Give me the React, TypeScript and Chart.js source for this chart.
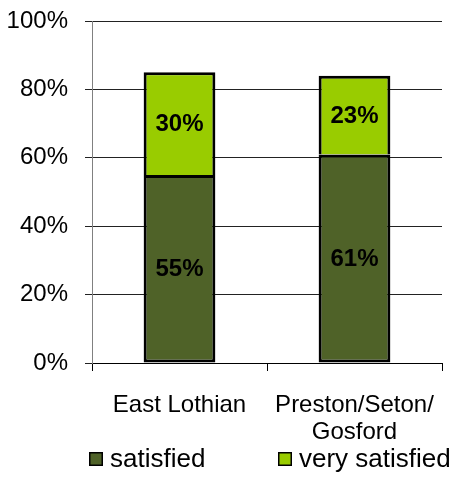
import React, { useEffect, useRef } from 'react';
import { Chart, registerables } from 'chart.js';

Chart.register(...registerables);

const categories: (string | string[])[] = ['East Lothian', ['Preston/Seton/', 'Gosford']];
const seriesNames = ['satisfied', 'very satisfied'];
const satisfied = [55, 61];
const verySatisfied = [30, 23];
const yMin = 0;
const yMax = 100;
const yStep = 20;

const FONT = "'Liberation Sans', Arial, sans-serif";

const dataLabelPlugin = {
  id: 'segmentLabels',
  afterDatasetsDraw(chart: any) {
    const ctx = chart.ctx;
    ctx.save();
    ctx.font = `bold 24px ${FONT}`;
    ctx.fillStyle = '#000';
    ctx.textAlign = 'center';
    ctx.textBaseline = 'middle';
    chart.data.datasets.forEach((ds: any, di: number) => {
      const meta = chart.getDatasetMeta(di);
      meta.data.forEach((bar: any, i: number) => {
        const { x, y, base } = bar.getProps(['x', 'y', 'base'], true);
        ctx.fillText(`${ds.data[i]}%`, x, (y + base) / 2 + 1);
      });
    });
    ctx.restore();
  },
};

const legendPlugin = {
  id: 'bottomLegend',
  afterDraw(chart: any, _args: any, opts: any) {
    const ctx = chart.ctx;
    ctx.save();
    ctx.font = `26px ${FONT}`;
    ctx.textBaseline = 'middle';
    ctx.textAlign = 'left';
    chart.data.datasets.forEach((ds: any, i: number) => {
      const x = opts.x[i];
      const y = opts.y;
      const s = opts.box;
      ctx.fillStyle = ds.backgroundColor;
      ctx.fillRect(x, y, s, s);
      ctx.strokeStyle = '#000';
      ctx.lineWidth = 1.5;
      ctx.strokeRect(x + 0.75, y + 0.75, s - 1.5, s - 1.5);
      ctx.fillStyle = '#000';
      ctx.fillText(ds.label, x + s + opts.gap, y + s / 2 + 1);
    });
    ctx.restore();
  },
};

export default function App() {
  const ref = useRef<HTMLCanvasElement>(null);
  useEffect(() => {
    if (!ref.current) return;
    const chart = new Chart(ref.current, {
      type: 'bar',
      data: {
        labels: categories as any,
        datasets: [
          {
            label: seriesNames[0],
            data: satisfied,
            backgroundColor: '#4F6228',
            borderColor: '#000',
            borderWidth: 3,
            borderSkipped: false,
            barPercentage: 0.41,
            categoryPercentage: 1,
          },
          {
            label: seriesNames[1],
            data: verySatisfied,
            backgroundColor: '#99CC00',
            borderColor: '#000',
            borderWidth: 3,
            borderSkipped: 'start',
            barPercentage: 0.41,
            categoryPercentage: 1,
          },
        ],
      },
      options: {
        responsive: false,
        animation: false,
        layout: { padding: { top: 21, right: 11, left: 0, bottom: 40 } },
        plugins: {
          legend: { display: false },
          tooltip: { enabled: false },
          bottomLegend: { x: [89, 278], y: 452, box: 14, gap: 7 },
        } as any,
        scales: {
          x: {
            stacked: true,
            grid: {
              offset: true,
              drawOnChartArea: false,
              drawTicks: true,
              tickLength: 8,
              color: '#000',
            },
            border: { color: '#000', width: 1 },
            ticks: {
              color: '#000',
              font: { family: FONT, size: 24, lineHeight: 1.13 },
              padding: 21,
              maxRotation: 0,
              autoSkip: false,
            },
            afterFit: (scale: any) => {
              scale.height = 479 - 40 - 363;
              scale.paddingLeft = 0;
              scale.paddingRight = 0;
            },
          },
          y: {
            stacked: true,
            min: yMin,
            max: yMax,
            grid: {
              color: '#222',
              tickLength: 7,
              tickColor: '#222',
            },
            border: { color: '#808080', width: 1 },
            ticks: {
              stepSize: yStep,
              color: '#000',
              font: { family: FONT, size: 24 },
              padding: 17,
              callback: (v: any) => `${v}%`,
            },
            afterFit: (scale: any) => {
              scale.width = 92;
              scale.paddingTop = 0;
              scale.paddingBottom = 0;
            },
          },
        },
      },
      plugins: [dataLabelPlugin, legendPlugin],
    });
    return () => chart.destroy();
  }, []);
  return (
    <div style={{ position: 'absolute', left: 0, top: 0, width: 453, height: 479 }}>
      <canvas ref={ref} width={453} height={479} />
    </div>
  );
}
